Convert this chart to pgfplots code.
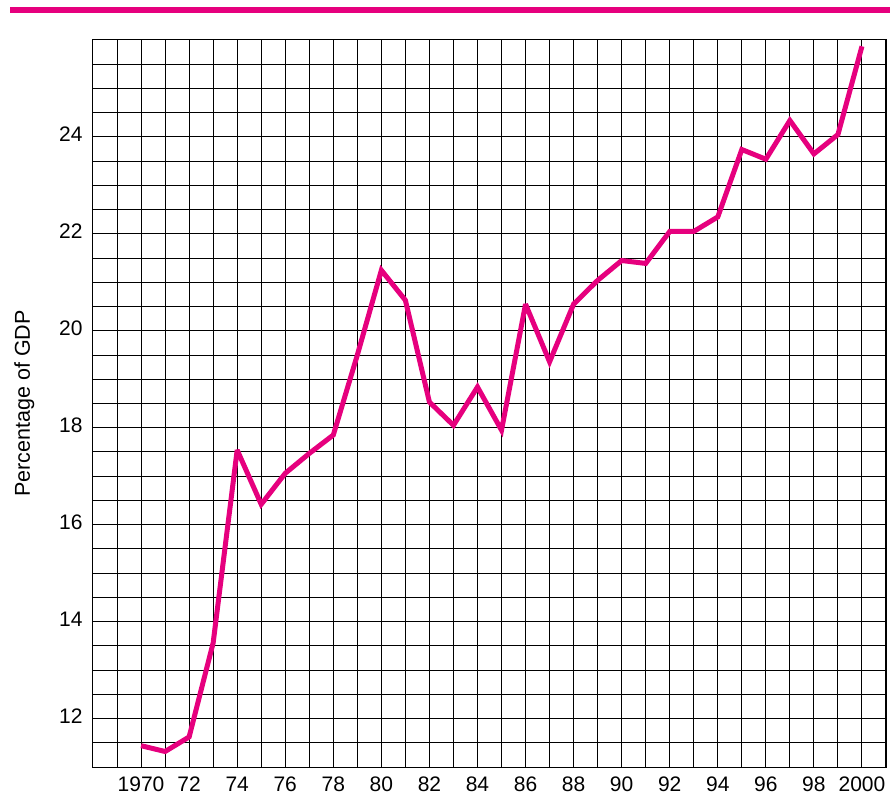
\documentclass[border=0pt]{standalone}
\usepackage{fontspec}
\setmainfont{Liberation Sans}
\usepackage{pgfplots}
\pgfplotsset{compat=1.18}
\definecolor{mag}{RGB}{230,0,126}
\begin{document}
\begin{tikzpicture}[x=1pt,y=1pt]
\begin{axis}[
  at={(0,0)}, anchor=south west,
  scale only axis, width=793pt, height=727pt,
  xmin=1968, xmax=2001, ymin=11, ymax=26,
  xtick={1970,1972,...,2000},
  xticklabels={1970,72,74,76,78,80,82,84,86,88,90,92,94,96,98,2000},
  minor xtick={1968,...,2001},
  ytick={12,14,...,24},
  minor ytick={11,11.5,...,26},
  grid=both,
  major grid style={black, line width=1pt},
  minor grid style={black, line width=1pt},
  major tick length=0pt, minor tick length=0pt,
  axis line style={black, line width=1pt},
  /pgf/number format/assume math mode=true,
  /pgf/number format/1000 sep={},
  typeset ticklabels with strut,
  ticklabel style={font=\fontsize{21}{25}\selectfont},
  xticklabel style={yshift=-3pt},
  yticklabel style={xshift=-7pt},
  ylabel={Percentage of GDP},
  ylabel style={font=\fontsize{21.5}{25}\selectfont, yshift=18pt},
  clip=false,
]
\addplot[mag, line width=5pt, line join=miter, miter limit=3] coordinates {
(1970,11.44) (1971,11.32) (1972,11.62) (1973,13.56) (1974,17.54)
(1975,16.42) (1976,17.06) (1977,17.47) (1978,17.85) (1979,19.5)
(1980,21.25) (1981,20.63) (1982,18.53) (1983,18.05) (1984,18.84)
(1985,17.95) (1986,20.55) (1987,19.36) (1988,20.55) (1989,21.04)
(1990,21.45) (1991,21.39) (1992,22.05) (1993,22.05) (1994,22.35)
(1995,23.74) (1996,23.54) (1997,24.34) (1998,23.65) (1999,24.05)
(2000,25.87)
};
\end{axis}
\fill[mag] (-83,754.3) rectangle (797,759.7);
\pgfresetboundingbox
\path[use as bounding box] (-93,-40) rectangle (797,767);
\end{tikzpicture}
\end{document}
